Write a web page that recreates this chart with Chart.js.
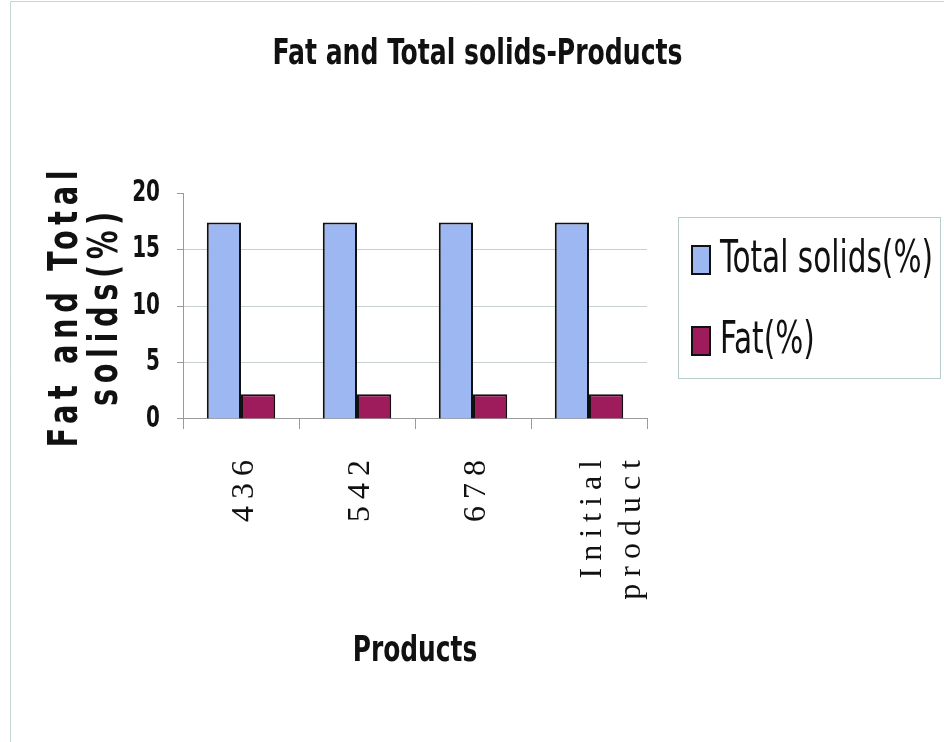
<!DOCTYPE html>
<html>
<head>
<meta charset="utf-8">
<title>Fat and Total solids-Products</title>
<script src="https://cdn.jsdelivr.net/npm/chart.js@4.4.1/dist/chart.umd.min.js"></script>
<style>
  html, body { margin: 0; padding: 0; background: #fff; }
  #wrap { width: 944px; height: 742px; position: relative; }
</style>
</head>
<body>
<div id="wrap"><canvas id="myChart" width="944" height="742"></canvas></div>
<script>
// data
var products = ['436', '542', '678', ['Initial', 'product']];
var totalSolids = [17.4, 17.4, 17.4, 17.4];
var fat = [2.2, 2.2, 2.2, 2.2];
var yTicks = [0, 5, 10, 15, 20];

var narrow = "'Liberation Sans Narrow', 'DejaVu Sans Condensed', 'Arial Narrow', sans-serif";
var serif = "'Liberation Serif', 'Times New Roman', serif";

// squeeze a draw call around (cx, cy) (no narrow font installed)
function squeeze(obj, name, kx, ky, centerFn, spacing) {
    var orig = obj[name];
    obj[name] = function (a) {
        var c = this.ctx, p = centerFn(this);
        c.save();
        if (spacing) c.letterSpacing = spacing;
        c.translate(p[0], p[1]);
        c.scale(kx, ky);
        c.translate(-p[0], -p[1]);
        orig.call(this, a);
        c.restore();
    };
}

// letter spacing on the rotated texts, narrow look on the bold texts
var looks = {
    id: 'looks',
    beforeDraw: function (chart) {
        var x = chart.scales.x, y = chart.scales.y, t = chart.titleBlock;
        if (!x._done) {
            squeeze(x, 'drawLabels', 1, 1, function () { return [0, 0]; }, '7px');
            squeeze(x, 'drawTitle', 0.79, 1, function (s) { return [(s.left + s.right) / 2, 0]; });
            x._done = true;
        }
        if (!y._done) {
            squeeze(y, 'drawTitle', 1, 0.8, function (s) { return [0, (s.top + s.bottom) / 2]; }, '7px');
            squeeze(y, 'drawLabels', 0.74, 1, function (s) { return [s.right - 23, 0]; });
            y._done = true;
        }
        if (t && !t._done) {
            squeeze(t, 'draw', 0.775, 1, function (s) { return [(s.left + s.right) / 2, 0]; });
            t._done = true;
        }
    }
};

// legend in a box on the right + thin frame
var boxLegend = {
    id: 'boxLegend',
    afterDraw: function (chart) {
        var c = chart.ctx;
        c.save();
        c.strokeStyle = '#c6d6d6';
        c.lineWidth = 1;
        c.beginPath();
        c.moveTo(10.5, 742);
        c.lineTo(10.5, 1.5);
        c.lineTo(944, 1.5);
        c.stroke();
        c.strokeStyle = '#b9cccc';
        c.strokeRect(678.5, 217.5, 262, 161);
        var rows = [260, 341];
        c.font = '44px ' + narrow;
        var k = 213 / c.measureText(chart.data.datasets[0].label).width;
        chart.data.datasets.forEach(function (ds, i) {
            c.fillStyle = ds.backgroundColor;
            c.fillRect(692, rows[i] - 14, 18, 28);
            c.strokeStyle = '#111';
            c.lineWidth = 2;
            c.strokeRect(692, rows[i] - 14, 18, 28);
            c.save();
            c.translate(720, rows[i] + 1);
            c.scale(k, 1);
            c.fillStyle = '#111';
            c.textBaseline = 'middle';
            c.fillText(ds.label, 0, 0);
            c.restore();
        });
        c.restore();
    }
};

const ctx = document.getElementById('myChart').getContext('2d');
const myChart = new Chart(ctx, {
    type: 'bar',
    data: {
        labels: products,
        datasets: [{
            label: 'Total solids(%)',
            data: totalSolids,
            backgroundColor: '#9db7f2',
            borderColor: '#111',
            borderWidth: 2,
            borderSkipped: 'bottom'
        }, {
            label: 'Fat(%)',
            data: fat,
            backgroundColor: '#9e1b5c',
            borderColor: '#111',
            borderWidth: 2,
            borderSkipped: 'bottom'
        }]
    },
    options: {
        responsive: false,
        animation: false,
        devicePixelRatio: 1,
        layout: { padding: { left: 11, top: 0, right: 0, bottom: 0 } },
        categoryPercentage: 0.59,
        barPercentage: 1,
        plugins: {
            legend: { display: false },
            tooltip: { enabled: false },
            title: {
                display: true,
                text: 'Fat and Total solids-Products',
                color: '#111',
                font: { family: narrow, size: 36, weight: 'bold', lineHeight: 1.2 },
                padding: { top: 33, bottom: 117 }
            }
        },
        scales: {
            x: {
                grid: { drawOnChartArea: false, drawTicks: true, tickLength: 10, tickColor: '#9a9a9a', offset: true },
                border: { color: '#9a9a9a', width: 1 },
                ticks: {
                    color: '#111',
                    font: { family: serif, size: 32, lineHeight: 1.2 },
                    minRotation: 90,
                    maxRotation: 90,
                    padding: 24,
                    labelOffset: 4,
                    autoSkip: false
                },
                title: {
                    display: true,
                    text: 'Products',
                    color: '#111',
                    font: { family: narrow, size: 35, weight: 'bold', lineHeight: 1.2 },
                    padding: { top: 0, bottom: 69 }
                },
                afterFit: function (scale) { scale.height = 323; }
            },
            y: {
                min: 0,
                max: 20,
                afterBuildTicks: function (scale) {
                    scale.ticks = yTicks.map(function (v) { return { value: v }; });
                },
                grid: {
                    color: function (c) { return c.tick && c.tick.value === 20 ? 'rgba(0,0,0,0)' : '#c9d0d0'; },
                    tickColor: '#9a9a9a',
                    tickLength: 6
                },
                border: { color: '#9a9a9a', width: 1 },
                ticks: {
                    color: '#111',
                    font: { family: narrow, size: 30, weight: 'bold' },
                    padding: 17
                },
                title: {
                    display: true,
                    text: ['Fat and Total', 'solids(%)'],
                    color: '#111',
                    font: { family: narrow, size: 40, weight: 'bold', lineHeight: 1.0 },
                    padding: { top: 36, bottom: 0 }
                },
                afterFit: function (scale) { scale.width = 172; }
            },
            // empty axis that only keeps room for the legend box
            room: {
                type: 'linear',
                axis: 'y',
                position: 'right',
                display: true,
                grid: { display: false, drawTicks: false },
                border: { display: false },
                ticks: { display: false },
                afterFit: function (scale) { scale.width = 297; }
            }
        }
    },
    plugins: [looks, boxLegend]
});
</script>
</body>
</html>
